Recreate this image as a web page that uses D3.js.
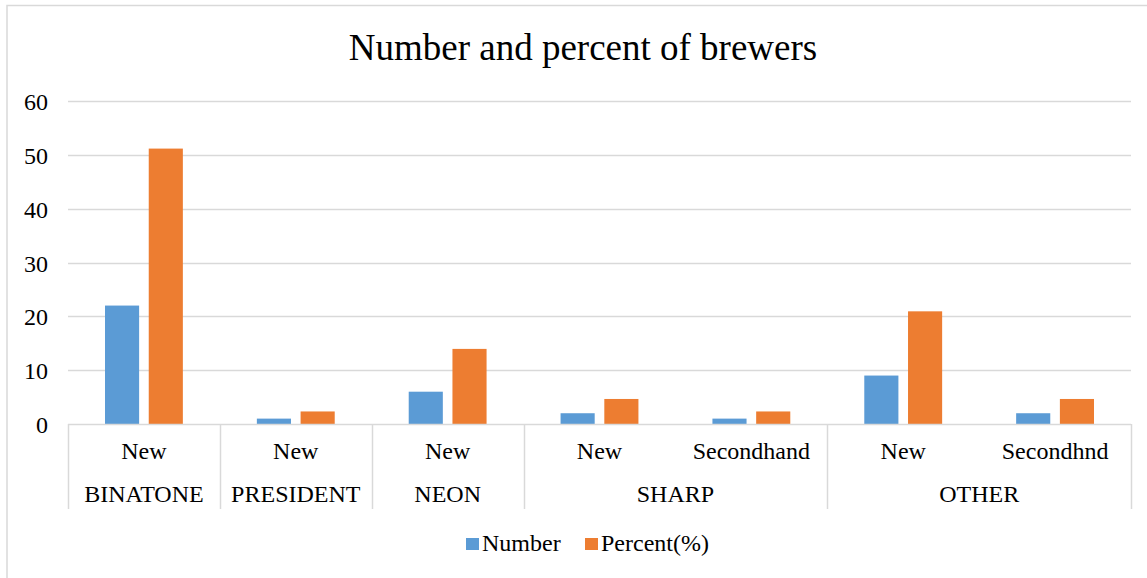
<!DOCTYPE html>
<html>
<head>
<meta charset="utf-8">
<script src="https://cdn.jsdelivr.net/npm/d3@7"></script>
<style>
  html, body { margin: 0; padding: 0; background: #fff; }
  svg text { font-family: "Liberation Serif", "Times New Roman", serif; fill: #000; }
</style>
</head>
<body>
<svg id="chart" width="1147" height="578"></svg>
<script>
// ---- data ----
const groups = ["BINATONE", "PRESIDENT", "NEON", "SHARP", "SHARP", "OTHER", "OTHER"];
const conditions = ["New", "New", "New", "New", "Secondhand", "New", "Secondhnd"];
const numberValues = [22, 1, 6, 2, 1, 9, 2];
const percentValues = [51.16, 2.33, 13.95, 4.65, 2.33, 20.93, 4.65];
const seriesNames = ["Number", "Percent(%)"];
const seriesColors = ["#5b9bd5", "#ed7d31"];
const yTicks = [0, 10, 20, 30, 40, 50, 60];
const title = "Number and percent of brewers";

// ---- layout ----
const svg = d3.select("#chart");
const W = 1147, H = 578;
const plotLeft = 68, plotRight = 1131, plotTop = 101, plotBottom = 424;

// chart border (right and bottom edges fall outside the picture)
svg.append("rect").attr("x", 7).attr("y", 5.5).attr("width", W + 10).attr("height", H + 10)
  .attr("fill", "#fff").attr("stroke", "#d9d9d9").attr("stroke-width", 1.5);

const leaves = d3.range(conditions.length);
const x0 = d3.scaleBand().domain(leaves).range([plotLeft, plotRight]).padding(0);
const x1 = d3.scaleBand().domain(seriesNames)
  .range([37, x0.bandwidth() - 37]).paddingInner(0.22).paddingOuter(0);
const y = d3.scaleLinear().domain([0, 60]).range([plotBottom, plotTop]);

// title
svg.append("text").attr("x", 583).attr("y", 60).attr("text-anchor", "middle")
  .style("font-size", "37px").text(title);

// gridlines
svg.append("g").selectAll("line").data(yTicks.filter(d => d > 0)).join("line")
  .attr("x1", plotLeft).attr("x2", plotRight)
  .attr("y1", d => Math.round(y(d)) + 0.5).attr("y2", d => Math.round(y(d)) + 0.5)
  .attr("stroke", "#d9d9d9").attr("stroke-width", 1.5);

// y axis labels
const yAxis = d3.axisLeft(y).tickValues(yTicks).tickSize(0).tickPadding(20);
const gy = svg.append("g").attr("transform", `translate(${plotLeft},0)`).call(yAxis);
gy.select(".domain").remove();
gy.selectAll("text").style("font-size", "24px")
  .style("font-family", "Liberation Serif, Times New Roman, serif").attr("fill", "#000").attr("dy", "0.36em");

// bars
const rows = leaves.map(i => ({ i, vals: [numberValues[i], percentValues[i]] }));
const gBars = svg.append("g").selectAll("g").data(rows).join("g")
  .attr("transform", d => `translate(${x0(d.i)},0)`);
gBars.selectAll("rect").data(d => d.vals.map((v, k) => ({ v, k }))).join("rect")
  .attr("x", d => x1(seriesNames[d.k]))
  .attr("width", x1.bandwidth())
  .attr("y", d => y(d.v))
  .attr("height", d => y(0) - y(d.v))
  .attr("fill", d => seriesColors[d.k]);

// baseline
svg.append("line").attr("x1", plotLeft).attr("x2", plotRight).attr("y1", plotBottom + 0.5).attr("y2", plotBottom + 0.5)
  .attr("stroke", "#d9d9d9").attr("stroke-width", 1.5);

// category axis: condition labels
svg.append("g").selectAll("text").data(leaves).join("text")
  .attr("x", i => x0(i) + x0.bandwidth() / 2).attr("y", 459)
  .attr("text-anchor", "middle").style("font-size", "24px")
  .text(i => conditions[i]);

// group spans
const spans = [];
leaves.forEach(i => {
  const last = spans[spans.length - 1];
  if (last && last.name === groups[i]) last.end = i; else spans.push({ name: groups[i], start: i, end: i });
});
svg.append("g").selectAll("text").data(spans).join("text")
  .attr("x", s => (x0(s.start) + x0(s.end) + x0.bandwidth()) / 2).attr("y", 502)
  .attr("text-anchor", "middle").style("font-size", "24px")
  .text(s => s.name);

// separators
const sepX = [plotLeft].concat(spans.map(s => x0(s.end) + x0.bandwidth()));
svg.append("g").selectAll("line").data(sepX).join("line")
  .attr("x1", d => Math.round(d) + 0.5).attr("x2", d => Math.round(d) + 0.5)
  .attr("y1", plotBottom).attr("y2", 509)
  .attr("stroke", "#d9d9d9").attr("stroke-width", 1.5);

// legend
const legend = svg.append("g");
const legendX = [466, 585];
seriesNames.forEach((name, k) => {
  legend.append("rect").attr("x", legendX[k]).attr("y", 538).attr("width", 13).attr("height", 12)
    .attr("fill", seriesColors[k]);
  legend.append("text").attr("x", legendX[k] + 16).attr("y", 551)
    .style("font-size", "24px").text(name);
});
</script>
</body>
</html>
